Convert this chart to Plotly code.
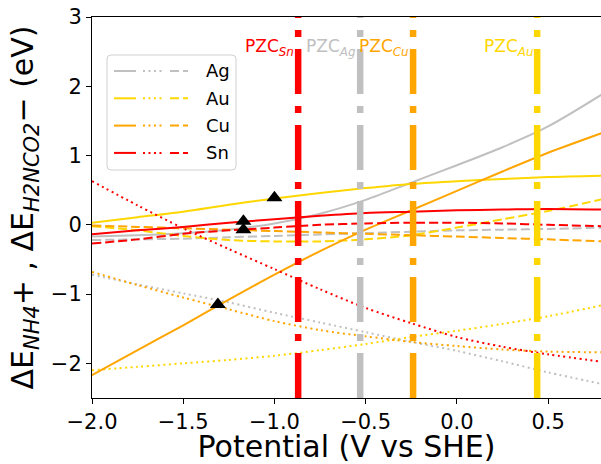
import plotly.graph_objects as go

# ---------------- data ----------------
potential = [-2.0, -1.75, -1.5, -1.25, -1.0, -0.75, -0.5, -0.25, 0.0, 0.25, 0.5, 0.8]

metals = ["Ag", "Au", "Cu", "Sn"]
metal_colors = ["#C0C0C0", "#FFD700", "#FFA500", "#FF0000"]

# solid curves
solid_Ag = [-0.17, -0.15, -0.12, -0.07, 0.02, 0.16, 0.36, 0.61, 0.86, 1.12, 1.42, 1.89]
solid_Au = [0.03, 0.11, 0.19, 0.29, 0.38, 0.46, 0.53, 0.59, 0.63, 0.66, 0.69, 0.71]
solid_Cu = [-2.17, -1.81, -1.45, -1.08, -0.72, -0.38, -0.07, 0.21, 0.49, 0.77, 1.04, 1.33]
solid_Sn = [-0.135, -0.08, -0.03, 0.03, 0.08, 0.13, 0.17, 0.19, 0.21, 0.22, 0.23, 0.22]

# dotted curves
dotted_Ag = [-0.72, -0.86, -0.99, -1.12, -1.27, -1.41, -1.55, -1.69, -1.82, -1.97, -2.13, -2.30]
dotted_Au = [-2.10, -2.05, -2.00, -1.95, -1.89, -1.81, -1.72, -1.62, -1.53, -1.43, -1.32, -1.16]
dotted_Cu = [-0.68, -0.87, -1.05, -1.22, -1.39, -1.52, -1.61, -1.69, -1.75, -1.80, -1.83, -1.84]
dotted_Sn = [0.63, 0.28, -0.05, -0.35, -0.64, -0.93, -1.20, -1.42, -1.62, -1.76, -1.87, -1.98]

# dashed curves
dashed_Ag = [-0.22, -0.21, -0.20, -0.18, -0.16, -0.14, -0.12, -0.10, -0.08, -0.07, -0.06, -0.04]
dashed_Au = [-0.02, -0.08, -0.16, -0.22, -0.24, -0.24, -0.21, -0.15, -0.04, 0.08, 0.20, 0.37]
dashed_Cu = [-0.01, -0.03, -0.05, -0.07, -0.09, -0.11, -0.13, -0.15, -0.17, -0.19, -0.21, -0.24]
dashed_Sn = [-0.27, -0.21, -0.13, -0.08, -0.04, 0.00, 0.02, 0.03, 0.03, 0.02, 0.00, -0.02]

# triangle markers
marker_x = [-1.0, -1.17, -1.17, -1.31]
marker_y = [0.39, 0.05, -0.07, -1.15]

# points of zero charge
pzc_metals = ["Sn", "Ag", "Cu", "Au"]
pzc_values = [-0.87, -0.53, -0.24, 0.44]

x_range = [-2.0, 0.79]
y_range = [-2.5, 3.0]

x_title = "Potential (V vs SHE)"
y_title = "ΔE<sub><i>NH4</i></sub>+ , ΔE<sub><i>H2NCO2</i></sub>− (eV)"

# ---------------- styles ----------------
FONT = "DejaVu Sans"
W, H = 601, 464
ML, MR, MT, MB = 92, 0, 17, 66
PW, PH = W - ML - MR, H - MT - MB
LW = 2
styles = [("solid", "solid"), ("dot", "2px,3.5px"), ("dash", "9px,4px")]

solid = dict(zip(metals, [solid_Ag, solid_Au, solid_Cu, solid_Sn]))
dotted = dict(zip(metals, [dotted_Ag, dotted_Au, dotted_Cu, dotted_Sn]))
dashed = dict(zip(metals, [dashed_Ag, dashed_Au, dashed_Cu, dashed_Sn]))
color_of = dict(zip(metals, metal_colors))

fig = go.Figure()
for m in metals:
    for (name, dash), series in zip(styles, [solid[m], dotted[m], dashed[m]]):
        fig.add_trace(go.Scatter(
            x=potential, y=series, mode="lines", name=f"{m} {name}",
            line=dict(color=color_of[m], width=LW, dash=dash, shape="spline", smoothing=0.8),
            showlegend=False, hoverinfo="skip"))

fig.add_trace(go.Scatter(
    x=marker_x, y=marker_y, mode="markers", showlegend=False,
    marker=dict(symbol="triangle-up", size=14, color="black"),
    hoverinfo="skip"))

def px_x(px):
    return (px - ML) / PW

def px_y(py):
    return (H - MB - py) / PH

shapes = []
annotations = []

# PZC vertical dash-dot lines + labels
for m, v in zip(pzc_metals, pzc_values):
    shapes.append(dict(type="line", xref="x", yref="paper", x0=v, x1=v, y0=0, y1=1,
                       line=dict(color=color_of[m], width=6.5, dash="45px,12px,7px,12px"),
                       layer="above"))
    annotations.append(dict(
        x=v, y=2.56, xref="x", yref="y", xanchor="right", yanchor="middle", xshift=-2,
        text=f"PZC<sub><i>{m}</i></sub>", showarrow=False,
        font=dict(family=FONT, size=17, color=color_of[m])))

# custom legend (each entry shows solid, dotted and dashed samples)
lx0, lx1, ly0, ly1 = 107, 236, 55, 170
r = 4
rx, ry = r / PW, r / PH
X0, X1, Y0, Y1 = px_x(lx0), px_x(lx1), px_y(ly1), px_y(ly0)
path = (f"M {X0+rx},{Y0} L {X1-rx},{Y0} Q {X1},{Y0} {X1},{Y0+ry} "
        f"L {X1},{Y1-ry} Q {X1},{Y1} {X1-rx},{Y1} L {X0+rx},{Y1} Q {X0},{Y1} {X0},{Y1-ry} "
        f"L {X0},{Y0+ry} Q {X0},{Y0} {X0+rx},{Y0} Z")
shapes.append(dict(type="path", xref="paper", yref="paper", path=path,
                   line=dict(color="#D0D0D0", width=1), fillcolor="rgba(255,255,255,0.8)",
                   layer="above"))
sample_spans = [(114, 136), (143, 165), (170, 188)]
for i, m in enumerate(metals):
    py = 71 + i * 27.3
    for (name, dash), (a, b) in zip(styles, sample_spans):
        shapes.append(dict(type="line", xref="paper", yref="paper",
                           x0=px_x(a), x1=px_x(b), y0=px_y(py), y1=px_y(py),
                           line=dict(color=color_of[m], width=LW, dash=dash), layer="above"))
    annotations.append(dict(x=px_x(204), y=px_y(py), xref="paper", yref="paper",
                            xanchor="left", yanchor="middle", text=m, showarrow=False,
                            font=dict(family=FONT, size=18, color="black")))

fig.update_layout(
    width=W, height=H,
    margin=dict(l=ML, r=MR, t=MT, b=MB, autoexpand=False),
    paper_bgcolor="white", plot_bgcolor="white",
    font=dict(family=FONT, color="black"),
    shapes=shapes, annotations=annotations,
    showlegend=False,
)
fig.update_xaxes(
    range=x_range, dtick=0.5, tick0=0, tickformat=".1f",
    showline=True, linecolor="black", linewidth=1, mirror=True,
    ticks="outside", ticklen=5, tickcolor="black", showgrid=False, zeroline=False,
    tickfont=dict(family=FONT, size=21, color="black"),
    title=dict(text=x_title, font=dict(family=FONT, size=30, color="black"), standoff=6),
    automargin=False,
)
fig.update_yaxes(
    range=y_range, dtick=1, tick0=0,
    showline=True, linecolor="black", linewidth=1, mirror=False,
    ticks="outside", ticklen=5, tickcolor="black", showgrid=False, zeroline=False,
    tickfont=dict(family=FONT, size=21, color="black"),
    title=dict(text=y_title, font=dict(family=FONT, size=30, color="black"), standoff=8),
    automargin=False,
)

fig.write_html("out.html", config={"displayModeBar": False},
               post_script="document.body.style.margin='0';document.body.style.overflow='hidden';")
